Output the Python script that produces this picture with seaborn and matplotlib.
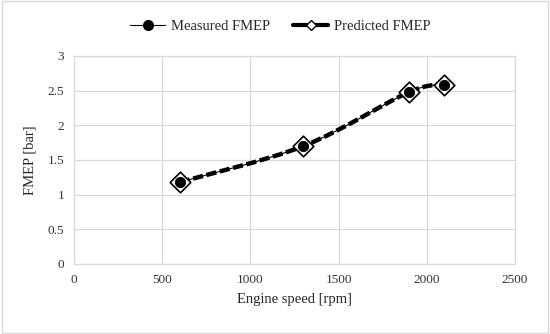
import numpy as np
import pandas as pd
import matplotlib
matplotlib.use("Agg")
import matplotlib.pyplot as plt
from matplotlib.path import Path
from matplotlib.patches import PathPatch, Rectangle
from matplotlib.lines import Line2D
import seaborn as sns

speed = [600, 1300, 1900, 2100]
measured = [1.18, 1.70, 2.48, 2.58]
predicted = [1.18, 1.70, 2.48, 2.58]
x_ticks = [0, 500, 1000, 1500, 2000, 2500]
y_ticks = [0, 0.5, 1, 1.5, 2, 2.5, 3]
y_tick_labels = ["0", "0.5", "1", "1.5", "2", "2.5", "3"]

sns.set_theme(style="white")
plt.rcParams['font.family'] = ['Liberation Serif', 'DejaVu Serif']


def smooth_path(xs, ys):
    # Excel-like smoothed line: cubic bezier through the points
    pts = np.column_stack([xs, ys]).astype(float)
    n = len(pts)
    verts = [pts[0]]
    codes = [Path.MOVETO]
    for i in range(n - 1):
        p0 = pts[i - 1] if i > 0 else pts[i]
        p1 = pts[i]
        p2 = pts[i + 1]
        p3 = pts[i + 2] if i + 2 < n else pts[i + 1]
        c1 = p1 + (p2 - p0) / 6.0
        c2 = p2 - (p3 - p1) / 6.0
        verts += [c1, c2, p2]
        codes += [Path.CURVE4] * 3
    return Path(verts, codes)


df = pd.DataFrame({"speed": speed, "measured": measured, "predicted": predicted})

fig = plt.figure(figsize=(5.5, 3.34), dpi=100)
ax = fig.add_axes([0.1345, 0.2096, 0.8018, 0.6228])

# smoothed lines
ax.add_patch(PathPatch(smooth_path(speed, predicted), fill=False, edgecolor="black",
                       lw=3.2, linestyle=(0, (2.3, 0.8)), zorder=3))
ax.add_patch(PathPatch(smooth_path(speed, measured), fill=False, edgecolor="black",
                       lw=0.8, zorder=4))

sns.scatterplot(data=df, x="speed", y="predicted", marker="D", s=110, color="white",
                edgecolor="black", linewidth=1.2, ax=ax, zorder=5)
sns.scatterplot(data=df, x="speed", y="measured", marker="o", s=55, color="black",
                edgecolor="black", ax=ax, zorder=6)

ax.set_xlim(0, 2500)
ax.set_ylim(0, 3)
ax.set_xticks(x_ticks)
ax.set_yticks(y_ticks)
ax.set_yticklabels(y_tick_labels)
ax.tick_params(axis="both", labelsize=9.5, length=0, pad=7, colors="#333333")
ax.grid(True, color="#d9d9d9", lw=0.9)
for s in ax.spines.values():
    s.set_color("#d9d9d9")
    s.set_linewidth(0.9)
ax.set_xlabel("Engine speed [rpm]", fontsize=10.5, color="#262626", labelpad=5)
ax.set_ylabel("FMEP [bar]", fontsize=10.5, color="#262626", labelpad=8)

# legend
h1 = Line2D([], [], color="black", lw=0.8, marker="o", markersize=7,
            markerfacecolor="black")
h2 = Line2D([], [], color="black", lw=3.0, marker="D", markersize=5,
            markerfacecolor="white", markeredgecolor="black")
fig.legend([h1, h2], ["Measured FMEP", "Predicted FMEP"], loc="center",
           bbox_to_anchor=(0.51, 0.922), ncol=2, frameon=False, fontsize=10.5,
           handlelength=2.4, columnspacing=1.6, handletextpad=0.4)

fig.patches.append(Rectangle((0.003, 0.003), 0.994, 0.994, transform=fig.transFigure,
                             fill=False, edgecolor="#d9d9d9", lw=1.0))

fig.savefig("out.png", dpi=100)
